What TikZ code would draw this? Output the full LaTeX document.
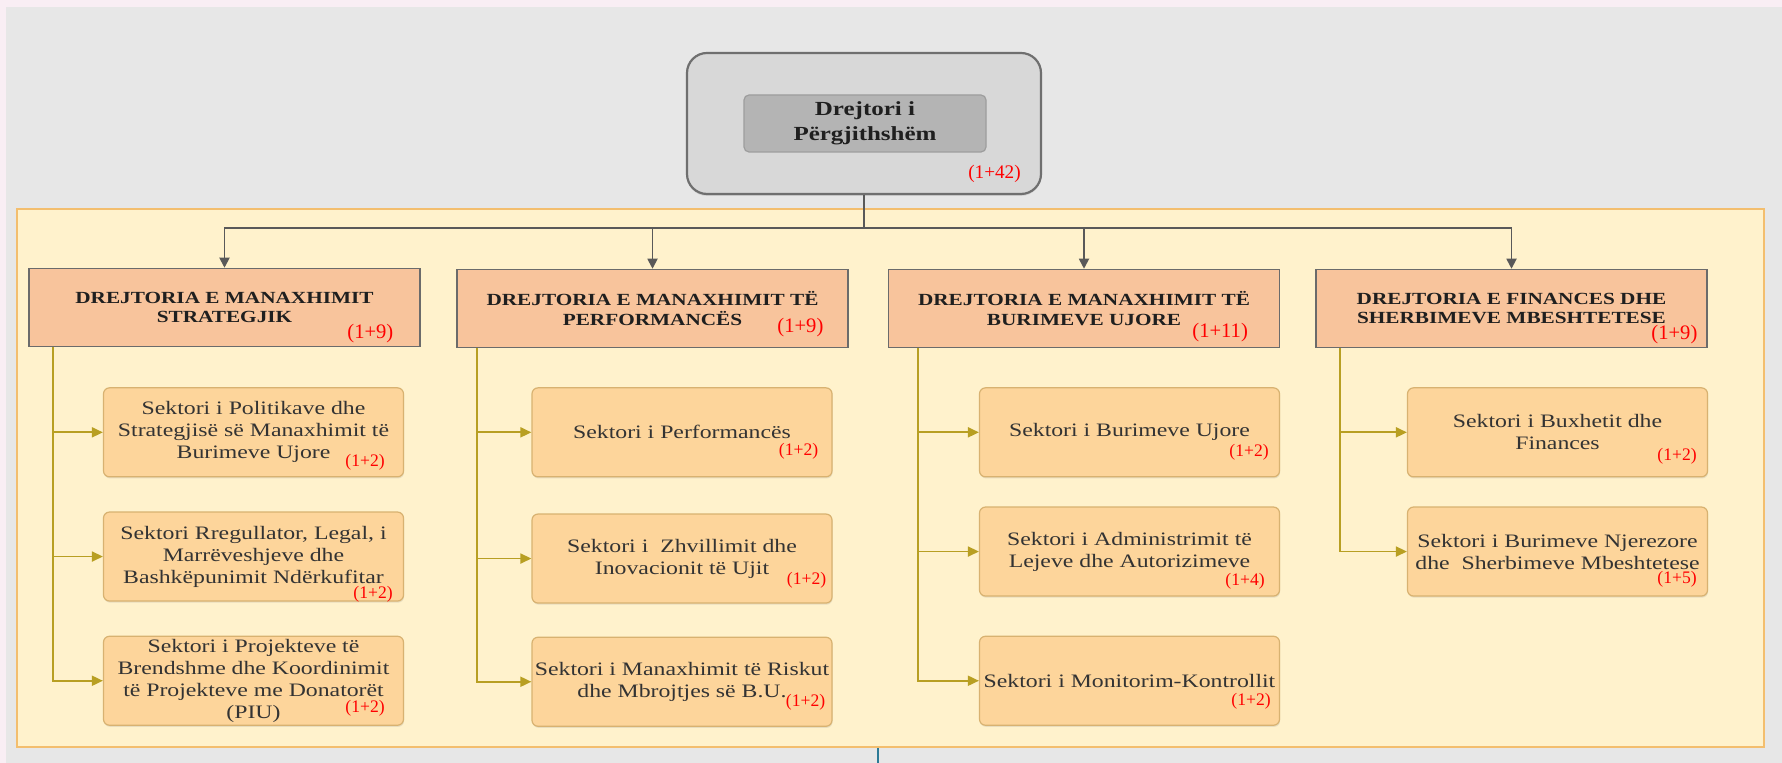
\documentclass[tikz,border=0pt]{standalone}
\usepackage{fontspec}
\setmainfont{Liberation Serif}[FakeStretch=1.25]
\newfontfamily\nrfont{Liberation Serif}
\usetikzlibrary{arrows.meta,positioning,shadows}

\definecolor{skaje}{HTML}{F9EEF4}
\definecolor{sfond}{HTML}{E7E7E7}
\definecolor{panelfill}{HTML}{FFF2CC}
\definecolor{panelline}{HTML}{F3BE6E}
\definecolor{drejtfill}{HTML}{F8C49C}
\definecolor{drejtline}{HTML}{6B6B6B}
\definecolor{sekfill}{HTML}{FDD59B}
\definecolor{sekline}{HTML}{D8B271}
\definecolor{feedcol}{HTML}{B89F22}
\definecolor{topfill}{HTML}{D8D8D8}
\definecolor{topline}{HTML}{6F6F6F}
\definecolor{titfill}{HTML}{B4B4B4}
\definecolor{titline}{HTML}{9D9D9D}
\definecolor{lidhjecol}{HTML}{595959}
\definecolor{tealcol}{HTML}{2C7A96}

\tikzset{
  drejt/.style = {draw=drejtline, fill=drejtfill, line width=0.75pt,
    minimum width=195.5pt, minimum height=39pt, inner sep=0pt, align=center,
    text=black!88, font=\bfseries\fontsize{8.5}{9.6}\selectfont},
  sektor/.style = {draw=sekline, fill=sekfill, rounded corners=3pt, line width=0.6pt,
    minimum width=150pt, minimum height=44.5pt, inner sep=0pt, align=center,
    text=black!80, font=\fontsize{9.5}{11}\selectfont,
    drop shadow={shadow xshift=0.3pt, shadow yshift=-0.8pt, opacity=0.18}},
  nr/.style = {anchor=south east, inner sep=0pt, text=red,
    font=\nrfont\fontsize{8.8}{8.8}\selectfont},
  nrmadh/.style = {nr, font=\nrfont\fontsize{10.3}{10.3}\selectfont},
  feed/.style = {draw=feedcol, line width=0.9pt, -{Triangle[length=5.5pt,width=5pt]}},
  lidhje/.style = {draw=lidhjecol, line width=0.9pt, -{Triangle[length=5pt,width=5pt]}}
}

\begin{document}
\begin{tikzpicture}[x=0.5pt, y=-0.5pt]
\useasboundingbox (0,0) rectangle (1782,763);
\fill[skaje] (0,0) rectangle (1782,763);
\fill[sfond] (6,7) rectangle (1782,763);

\node (panel) [draw=panelline, fill=panelfill, line width=0.9pt,
  minimum width=873.5pt, minimum height=269pt] at (890.5,478) {};

% drejtori i pergjithshem
\node (top) [draw=topline, fill=topfill, line width=1.1pt, rounded corners=10pt,
  minimum width=177pt, minimum height=70.5pt,
  drop shadow={shadow xshift=0pt, shadow yshift=-1pt, opacity=0.2}] at (864,123.5) {};
\node (titull) [draw=titline, fill=titfill, rounded corners=2.5pt, line width=0.6pt,
  minimum width=121pt, minimum height=28.5pt, inner sep=0pt, align=center,
  font=\bfseries\fontsize{10}{12.5}\selectfont, text=black!88] at (865,123.5)
  {Drejtori i\\P\"ergjithsh\"em};
\node (n0) [nrmadh, font=\nrfont\fontsize{9.6}{9.6}\selectfont]
  at ([xshift=-10.5pt,yshift=6pt]top.south east) {(1+42)};

% drejtorite
\node (d1) [drejt] at (224.5,307.5)  {DREJTORIA E MANAXHIMIT\\STRATEGJIK};
\node (d2) [drejt] at (652.5,308.5)  {DREJTORIA E MANAXHIMIT T\"E\\PERFORMANC\"ES};
\node (d3) [drejt] at (1084,308.5)   {DREJTORIA E MANAXHIMIT T\"E\\BURIMEVE UJORE};
\node (d4) [drejt] at (1511.5,308.5) {DREJTORIA E FINANCES DHE\\SHERBIMEVE MBESHTETESE};

\node (n1) [nrmadh] at ([xshift=-13.5pt,yshift=2pt]d1.south east)  {(1+9)};
\node (n2) [nrmadh] at ([xshift=-12.5pt,yshift=5.5pt]d2.south east) {(1+9)};
\node (n3) [nrmadh] at ([xshift=-16pt,yshift=3pt]d3.south east)    {(1+11)};
\node (n4) [nrmadh] at ([xshift=-5pt,yshift=2pt]d4.south east)     {(1+9)};

% sektoret
\node (s11) [sektor, below=20pt of d1, xshift=14.5pt]
  {Sektori i Politikave dhe\\Strategjis\"e s\"e Manaxhimit t\"e\\Burimeve Ujore};
\node (s12) [sektor, below=17pt of s11]
  {Sektori Rregullator, Legal, i\\Marr\"eveshjeve dhe\\Bashk\"epunimit Nd\"erkufitar};
\node (s13) [sektor, below=17pt of s12]
  {Sektori i Projekteve t\"e\\Brendshme dhe Koordinimit\\t\"e Projekteve me Donator\"et\\(PIU)};

\node (s21) [sektor, below=19.5pt of d2, xshift=14.75pt] {Sektori i Performanc\"es};
\node (s22) [sektor, below=18pt of s21]
  {Sektori i\ \ Zhvillimit dhe\\Inovacionit t\"e Ujit};
\node (s23) [sektor, below=16.5pt of s22]
  {Sektori i Manaxhimit t\"e Riskut\\dhe Mbrojtjes s\"e B.U.};

\node (s31) [sektor, below=19.5pt of d3, xshift=22.75pt] {Sektori i Burimeve Ujore};
\node (s32) [sektor, below=14.5pt of s31]
  {Sektori i Administrimit t\"e\\Lejeve dhe Autorizimeve};
\node (s33) [sektor, below=19.5pt of s32] {Sektori i Monitorim-Kontrollit};

\node (s41) [sektor, below=19.5pt of d4, xshift=23pt]
  {Sektori i Buxhetit dhe\\Finances};
\node (s42) [sektor, below=14.5pt of s41]
  {Sektori i Burimeve Njerezore\\dhe\ \ Sherbimeve Mbeshtetese};

\node (n11) [nr] at ([xshift=-9.5pt,yshift=3.5pt]s11.south east)  {(1+2)};
\node (n12) [nr] at ([xshift=-5.5pt,yshift=-0.5pt]s12.south east) {(1+2)};
\node (n13) [nr] at ([xshift=-9.5pt,yshift=4.5pt]s13.south east)  {(1+2)};
\node (n21) [nr] at ([xshift=-7pt,yshift=9pt]s21.south east)      {(1+2)};
\node (n22) [nr] at ([xshift=-3pt,yshift=7.5pt]s22.south east)    {(1+2)};
\node (n23) [nr] at ([xshift=-3.5pt,yshift=8pt]s23.south east)    {(1+2)};
\node (n31) [nr] at ([xshift=-5.5pt,yshift=8.5pt]s31.south east)  {(1+2)};
\node (n32) [nr] at ([xshift=-7.5pt,yshift=3.5pt]s32.south east)  {(1+4)};
\node (n33) [nr] at ([xshift=-4.5pt,yshift=8pt]s33.south east)    {(1+2)};
\node (n41) [nr] at ([xshift=-5.5pt,yshift=6.5pt]s41.south east)  {(1+2)};
\node (n42) [nr] at ([xshift=-5.5pt,yshift=4.5pt]s42.south east)  {(1+5)};

% lidhjet
\coordinate (bus) at (864,228);
\draw[lidhje, -] (top) -- (bus);
\draw[lidhje] (bus) -| (d1);
\draw[lidhje] (bus) -| (d2);
\draw[lidhje] (bus) -| (d3);
\draw[lidhje] (bus) -| (d4);

\coordinate (f1) at ([xshift=12.5pt]d1.south west);
\coordinate (f2) at ([xshift=10.5pt]d2.south west);
\coordinate (f3) at ([xshift=15pt]d3.south west);
\coordinate (f4) at ([xshift=12.5pt]d4.south west);

\draw[feed] (f1) |- (s11);
\draw[feed] (f1) |- (s12);
\draw[feed] (f1) |- (s13);
\draw[feed] (f2) |- (s21);
\draw[feed] (f2) |- (s22);
\draw[feed] (f2) |- (s23);
\draw[feed] (f3) |- (s31);
\draw[feed] (f3) |- (s32);
\draw[feed] (f3) |- (s33);
\draw[feed] (f4) |- (s41);
\draw[feed] (f4) |- (s42);

\coordinate (unten) at (878,763);
\draw[tealcol, line width=1pt] (panel.south -| unten) -- (unten);
\end{tikzpicture}
\end{document}
